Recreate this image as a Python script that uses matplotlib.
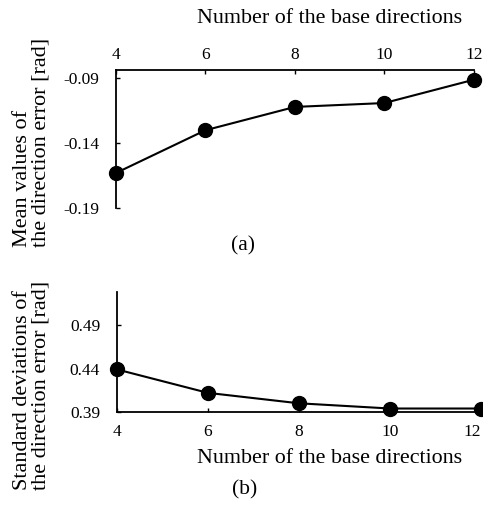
import matplotlib
matplotlib.use("Agg")
import matplotlib.pyplot as plt

plt.rcParams.update({
    "font.family": ["Liberation Serif", "DejaVu Serif"],
    "font.size": 12,
    "figure.facecolor": "white", "savefig.facecolor": "white",
})

# number of base directions vs. direction error statistics
n_dirs = [4, 6, 8, 10, 12]
mean_err = [-0.163, -0.130, -0.112, -0.109, -0.091]
std_err = [0.439, 0.412, 0.400, 0.394, 0.394]

mean_ticks = [-0.19, -0.14, -0.09]
std_ticks = [0.39, 0.44, 0.49]
xlabel = "Number of the base directions"

fig = plt.figure(figsize=(4.83, 5.08), dpi=100)

def style(ax, xpad):
    ax.set_xlim(4, 12)
    ax.set_xticks(n_dirs)
    for s in ax.spines.values():
        s.set_linewidth(1.3)
    ax.tick_params(direction="in", length=3, width=1, labelsize=12.5)
    ax.tick_params(axis="y", pad=12)
    ax.tick_params(axis="x", pad=xpad)

# (a) mean values, x axis on top
ax1 = fig.add_axes([0.240, 0.5906, 0.741, 0.2716])
ax1.plot(n_dirs, mean_err, "-o", color="black", lw=1.5, ms=10, clip_on=False, zorder=3)
ax1.set_ylim(-0.19, -0.0835)
ax1.set_yticks(mean_ticks)
ax1.set_yticklabels([f"{v:.2f}" for v in mean_ticks])
ax1.spines["bottom"].set_visible(False)
ax1.spines["right"].set_visible(False)
ax1.xaxis.tick_top()
style(ax1, 5)

# (b) standard deviations
ax2 = fig.add_axes([0.242, 0.189, 0.754, 0.236])
ax2.plot(n_dirs, std_err, "-o", color="black", lw=1.5, ms=10, clip_on=False, zorder=3)
ax2.set_ylim(0.39, 0.528)
ax2.set_yticks(std_ticks)
ax2.set_yticklabels([f"{v:.2f}" for v in std_ticks])
ax2.spines["top"].set_visible(False)
ax2.spines["right"].set_visible(False)
style(ax2, 9)
ax2.get_xticklabels()[-1].set_ha("right")

# axis titles
fig.text(0.683, 0.964, xlabel, ha="center", va="center", fontsize=15.8)
fig.text(0.683, 0.098, xlabel, ha="center", va="center", fontsize=15.8)

fig.text(0.066, 0.720, "Mean values of\nthe direction error [rad]", rotation=90,
         ha="center", va="center", multialignment="left", fontsize=16, linespacing=1.0)
fig.text(0.066, 0.242, "Standard deviations of\nthe direction error [rad]", rotation=90,
         ha="center", va="center", multialignment="left", fontsize=16, linespacing=1.0)

fig.text(0.503, 0.517, "(a)", ha="center", va="center", fontsize=15.5)
fig.text(0.507, 0.035, "(b)", ha="center", va="center", fontsize=15.5)

fig.savefig("out.png", dpi=100, facecolor="white")
